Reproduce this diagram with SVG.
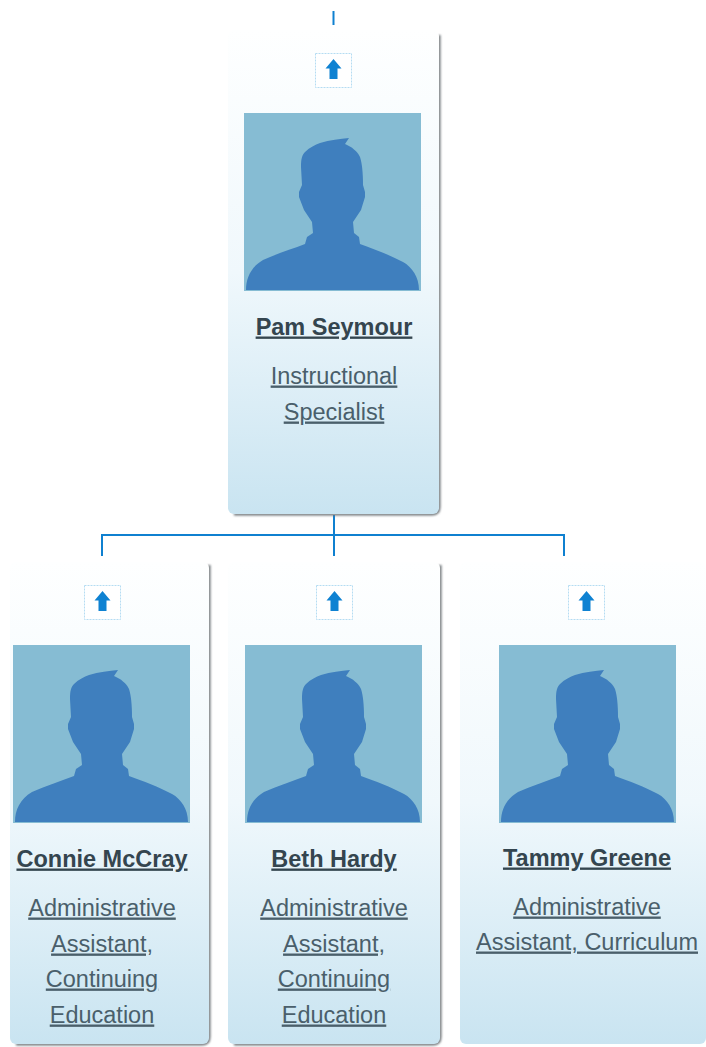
<svg xmlns="http://www.w3.org/2000/svg" width="706" height="1047" viewBox="0 0 706 1047">
<style>
.edge{fill:none;stroke:#6f7478;stroke-width:3;filter:url(#soft)}
.card{fill:url(#cardFill)}
.conn{fill:none;stroke:#0f80d0;stroke-width:2}
.btn{fill:#fff;stroke:#b5dcf2;stroke-width:1;stroke-dasharray:2 1}
.arrow{fill:#0f82d2}
.photo{fill:#86bcd3}
.person{fill:#3f7fbe}
.name{font:bold 23.500px "Liberation Sans",Arial,sans-serif;fill:#34454f;text-anchor:middle;text-decoration:underline}
.role{font:23.500px "Liberation Sans",Arial,sans-serif;fill:#4a5f6b;text-anchor:middle;text-decoration:underline}
</style>
<defs>
<linearGradient id="cardFill" x1="0" y1="0" x2="0" y2="1">
<stop offset="0" stop-color="#feffff"/><stop offset="0.5" stop-color="#f0f8fc"/><stop offset="1" stop-color="#c9e4f1"/>
</linearGradient>
<filter id="soft" x="-20%" y="-5%" width="140%" height="110%"><feGaussianBlur stdDeviation="0.9"/></filter>
<g id="avatar">
<rect class="photo" width="177" height="178"/>
<path class="person" d="M2 177C2 165 7 154 19 147C32 141 48 136 61 131L63 124L69 120L68 109L60 97L55 84V79L58 72L57 54C57 46 58 42 61 39C66 34 71 32 76 30C86 27 96 26 105 25L101 31C108 34 113 38 116 44C118 50 119 60 119 72L121 79V84L117 97L109 109L110 120L115 124L116 131C130 136 146 142 159 149C168 154 175 164 175 177Z"/>
</g>
<g id="up">
<rect class="btn" x="0.5" y="0.5" width="36" height="34"/>
<path class="arrow" d="M18.500 6L26.500 15.500H22.500V26H14.500V15.500H10.500Z"/>
</g>
</defs>
<g id="connectors">
<path class="conn" d="M333.500 11V25"/>
<path class="conn" d="M334 515V556M102 556V535H564V556"/>
</g>
<g id="node-pam">
<path class="edge" d="M439 35V507Q439 514 432 514H234"/>
<rect class="card" x="228" y="30" width="211" height="484" rx="6"/>
<use href="#up" x="315" y="53"/>
<use href="#avatar" x="244" y="113"/>
<text class="name" x="334" y="334.500">Pam Seymour</text>
<text class="role" x="334" y="383.500">Instructional</text>
<text class="role" x="334" y="419.500">Specialist</text>
</g>
<g id="node-connie">
<path class="edge" d="M209 565V1037Q209 1044 202 1044H16"/>
<rect class="card" x="10" y="562" width="199" height="482" rx="6"/>
<use href="#up" x="84" y="585"/>
<use href="#avatar" x="13" y="645"/>
<text class="name" x="102" y="866.500">Connie McCray</text>
<text class="role" x="102" y="915.500">Administrative</text>
<text class="role" x="102" y="951.500">Assistant,</text>
<text class="role" x="102" y="986.500">Continuing</text>
<text class="role" x="102" y="1022.500">Education</text>
</g>
<g id="node-beth">
<path class="edge" d="M440 565V1037Q440 1044 433 1044H234"/>
<rect class="card" x="228" y="562" width="212" height="482" rx="6"/>
<use href="#up" x="316" y="585"/>
<use href="#avatar" x="245" y="645"/>
<text class="name" x="334" y="866.500">Beth Hardy</text>
<text class="role" x="334" y="915.500">Administrative</text>
<text class="role" x="334" y="951.500">Assistant,</text>
<text class="role" x="334" y="986.500">Continuing</text>
<text class="role" x="334" y="1022.500">Education</text>
</g>
<g id="node-tammy">
<path class="edge" d="M466 1044H706"/>
<rect class="card" x="460" y="562" width="246" height="482" rx="6"/>
<use href="#up" x="568" y="585"/>
<use href="#avatar" x="499" y="645"/>
<text class="name" x="587" y="865.500">Tammy Greene</text>
<text class="role" x="587" y="914.500">Administrative</text>
<text class="role" x="587" y="949.500">Assistant, Curriculum</text>
</g>
</svg>
